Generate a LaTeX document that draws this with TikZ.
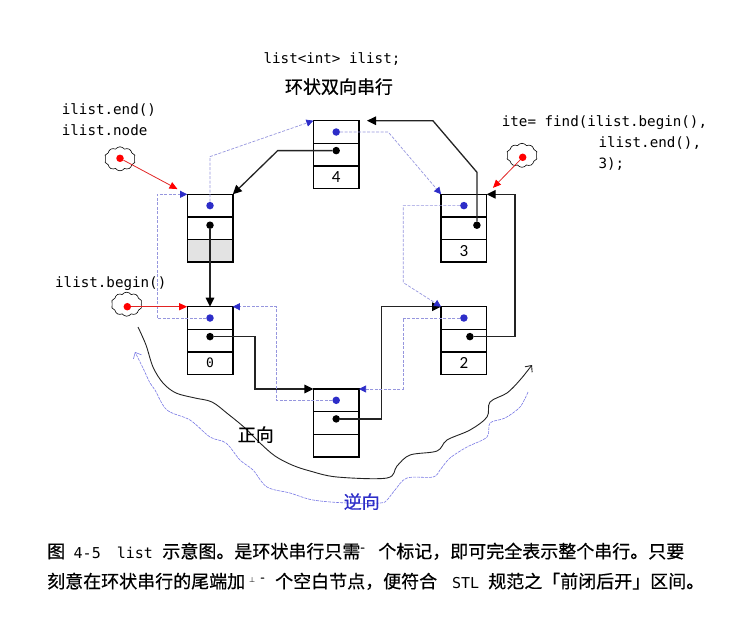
\documentclass[tikz,border=0pt]{standalone}
\usepackage{fontspec}
\setmainfont{Noto Sans CJK SC}[FakeBold=0.6]
\newfontfamily\codefont{DejaVu Sans Mono}
\newfontfamily\numfont{Carlito}
\newfontfamily\symfont{DejaVu Sans}
\usetikzlibrary{positioning,arrows.meta,shapes.symbols}
\definecolor{dotblue}{RGB}{45,45,200}
\definecolor{linkblue}{RGB}{150,150,222}
\definecolor{ptrred}{RGB}{225,35,35}
\definecolor{wire}{RGB}{35,35,35}
\begin{document}
\begin{tikzpicture}[x=1pt,y=-1pt,
    cell/.style={draw,line width=1.4pt,minimum width=45.6pt,minimum height=22.6pt,inner sep=0pt,outer sep=0pt,font=\numfont\fontsize{17pt}{17pt}\selectfont},
    pdot/.style={circle,fill=dotblue,minimum size=7.5pt,inner sep=0pt},
    ndot/.style={circle,fill=black,minimum size=7.5pt,inner sep=0pt},
    rdot/.style={circle,fill=red,minimum size=7.5pt,inner sep=0pt},
    next/.style={draw=wire,line width=1.3pt,-{Triangle[length=9pt,width=8.5pt,color=black]}},
    prev/.style={draw=linkblue,line width=0.7pt,dash pattern=on 3pt off 1.5pt,-{Triangle[length=7pt,width=7pt,color=dotblue]}},
    ptr/.style={draw=ptrred,line width=0.8pt,-{Triangle[length=8pt,width=7pt,color=red]}},
    puff/.style={cloud,draw,cloud puffs=10,cloud puff arc=110,minimum width=31pt,minimum height=24pt,inner sep=0pt,line width=0.6pt},
    code/.style={font=\codefont\fontsize{14.2pt}{14.2pt}\selectfont,inner sep=0pt},
    cjk/.style={font=\fontsize{18pt}{18pt}\selectfont,inner sep=0pt}]
    \useasboundingbox (0,0) rectangle (732,622);
    %% titles
    \node[code,anchor=base] (decl) at (332,63.5) {list<int> ilist;};
    \node[cjk,anchor=base] (title) at (339,93.5) {环状双向串行};
    %% top row
    \node[cell] (A1) at (336.2,132) {};
    \node[cell,below=0pt of A1] (A2) {};
    \node[cell,below=0pt of A2] (A3) {4};
    %% second row
    \node[cell] (B1) at (210,205.6) {};
    \node[cell,below=0pt of B1] (B2) {};
    \node[cell,fill=gray!22,below=0pt of B2] (B3) {};
    \node[cell] (C1) at (463.9,205.6) {};
    \node[cell,below=0pt of C1] (C2) {};
    \node[cell,below=0pt of C2] (C3) {3};
    %% third row
    \node[cell] (D1) at (210,318) {};
    \node[cell,below=0pt of D1] (D2) {};
    \node[cell,below=0pt of D2,font=\codefont\fontsize{13pt}{13pt}\selectfont] (D3) {0};
    \node[cell] (E1) at (463.9,318) {};
    \node[cell,below=0pt of E1] (E2) {};
    \node[cell,below=0pt of E2] (E3) {2};
    %% bottom row
    \node[cell] (F1) at (336.2,400.3) {};
    \node[cell,below=0pt of F1] (F2) {};
    \node[cell,below=0pt of F2] (F3) {};
    %% dots
    \node[pdot] (Ap) at (A1) {};
    \node[ndot] (An) at ([yshift=4pt]A2.center) {};
    \node[pdot] (Bp) at (B1) {};
    \node[ndot] (Bn) at ([yshift=3pt]B2.center) {};
    \node[pdot] (Cp) at (C1) {};
    \node[ndot] (Cn) at ([xshift=13pt,yshift=3pt]C2.center) {};
    \node[pdot] (Dp) at (D1) {};
    \node[ndot] (Dn) at ([yshift=4pt]D2.center) {};
    \node[pdot] (Ep) at (E1) {};
    \node[ndot] (En) at ([xshift=6pt,yshift=4pt]E2.center) {};
    \node[pdot] (Fp) at (F1) {};
    \node[ndot] (Fn) at ([yshift=4pt]F2.center) {};
    %% next links
    \draw[next] (Bn) -- (D1.north);
    \draw[next] (Dn) -- ++(45,0) |- (F1.north west);
    \draw[next] (Fn) -- ++(45,0) |- (E1.north west);
    \draw[next] (En) -- ++(45,0) |- (C1.north east);
    \draw[next] (Cn) -- ++(0,-53) -- ++(-44,-51.5) -- ([xshift=8pt]A1.north east);
    \draw[next] (An) -- ++(-58.5,0) -- (B1.north east);
    %% prev links
    \draw[prev] (Ap) -- ++(52,0) -- (C1.north west);
    \draw[prev] (Cp) -- ++(-60.6,0) -- ++(0,77) -- (E1.north west);
    \draw[prev] (Ep) -- ++(-61,0) |- (F1.north east);
    \draw[prev] (Fp) -- ++(-60,0) |- (D1.north east);
    \draw[prev] (Dp) -- ++(-53,0) |- (B1.north west);
    \draw[prev] (Bp) -- ++(0,-49) -- (A1.north west);
    %% iterators
    \node[code,anchor=base west] (endlbl) at (61.7,114.5) {ilist.end()};
    \node[code,anchor=base west] (nodelbl) at (61.7,135.5) {ilist.node};
    \node[puff] (P1) at (120,158.8) {};
    \node[rdot] (R1) at (120,158.3) {};
    \draw[ptr,shorten >=11pt] (R1) -- (B1.north west);
    \node[code,anchor=base west] (beginlbl) at (55,287.5) {ilist.begin()};
    \node[puff] (P2) at (126.7,304.2) {};
    \node[rdot] (R2) at (127.3,306.7) {};
    \draw[ptr] (R2) -- (D1.north west);
    \node[code,anchor=base west] (findlbl) at (501.7,126.5) {ite= find(ilist.begin(),};
    \node[code,anchor=base west] (findlbl2) at (598.3,147.5) {ilist.end(),};
    \node[code,anchor=base west] (findlbl3) at (598.3,168.5) {3);};
    \node[puff] (P3) at (522,155.3) {};
    \node[rdot] (R3) at (522.7,157.3) {};
    \draw[ptr,shorten >=9pt] (R3) -- (C1.north east);
    %% directions
    \draw[wire,line width=0.9pt,-{Straight Barb[length=5pt,width=9pt]}] plot[smooth,tension=0.55] coordinates {(138,327) (146,345) (153,367) (163,383) (176,393) (195,398) (212,402) (228,414) (245,428) (260,443) (275,456) (292,465) (310,471) (337,477) (387,478) (397,466) (410,455) (437,451) (447,440) (470,430) (487,417) (490,402) (507,393) (520,380) (532,365)};
    \draw[linkblue!80!blue,line width=0.6pt,dash pattern=on 3pt off 1pt,-{Straight Barb[length=5pt,width=9pt]}] plot[smooth,tension=0.55] coordinates {(528,392) (520,407) (505,418) (490,423) (487,437) (467,447) (450,458) (440,470) (433,477) (407,478) (395,490) (387,500) (380,503) (347,503) (313,500) (290,493) (267,487) (253,470) (240,460) (226,443) (210,437) (190,420) (167,410) (155,390) (150,383) (143,368) (135,352)};
    \node[cjk,anchor=base] (fwd) at (255.8,441.5) {正向};
    \node[cjk,anchor=base,text=dotblue] (bwd) at (361.7,508.5) {逆向};
    %% caption
    \node[cjk,anchor=base west] (cap1) at (47,558) {图\hspace{8.5pt}{\codefont\fontsize{15pt}{15pt}\selectfont 4-5}\hspace{16pt}{\codefont\fontsize{15pt}{15pt}\selectfont list}\hspace{9.5pt}示意图。是环状串行只需\textsuperscript{-}\hspace{13pt}个标记，即可完全表示整个串行。只要};
    \node[cjk,anchor=base west] (cap2) at (47,588) {刻意在环状串行的尾端加\hspace{4pt}\raisebox{6pt}{\symfont\fontsize{7pt}{7pt}\selectfont ⊥}\hspace{5pt}\textsuperscript{-}\hspace{10pt}个空白节点，便符合\hspace{15pt}{\codefont\fontsize{15pt}{15pt}\selectfont STL}\hspace{9pt}规范之「前闭后开」区间。};
\end{tikzpicture}
\end{document}
